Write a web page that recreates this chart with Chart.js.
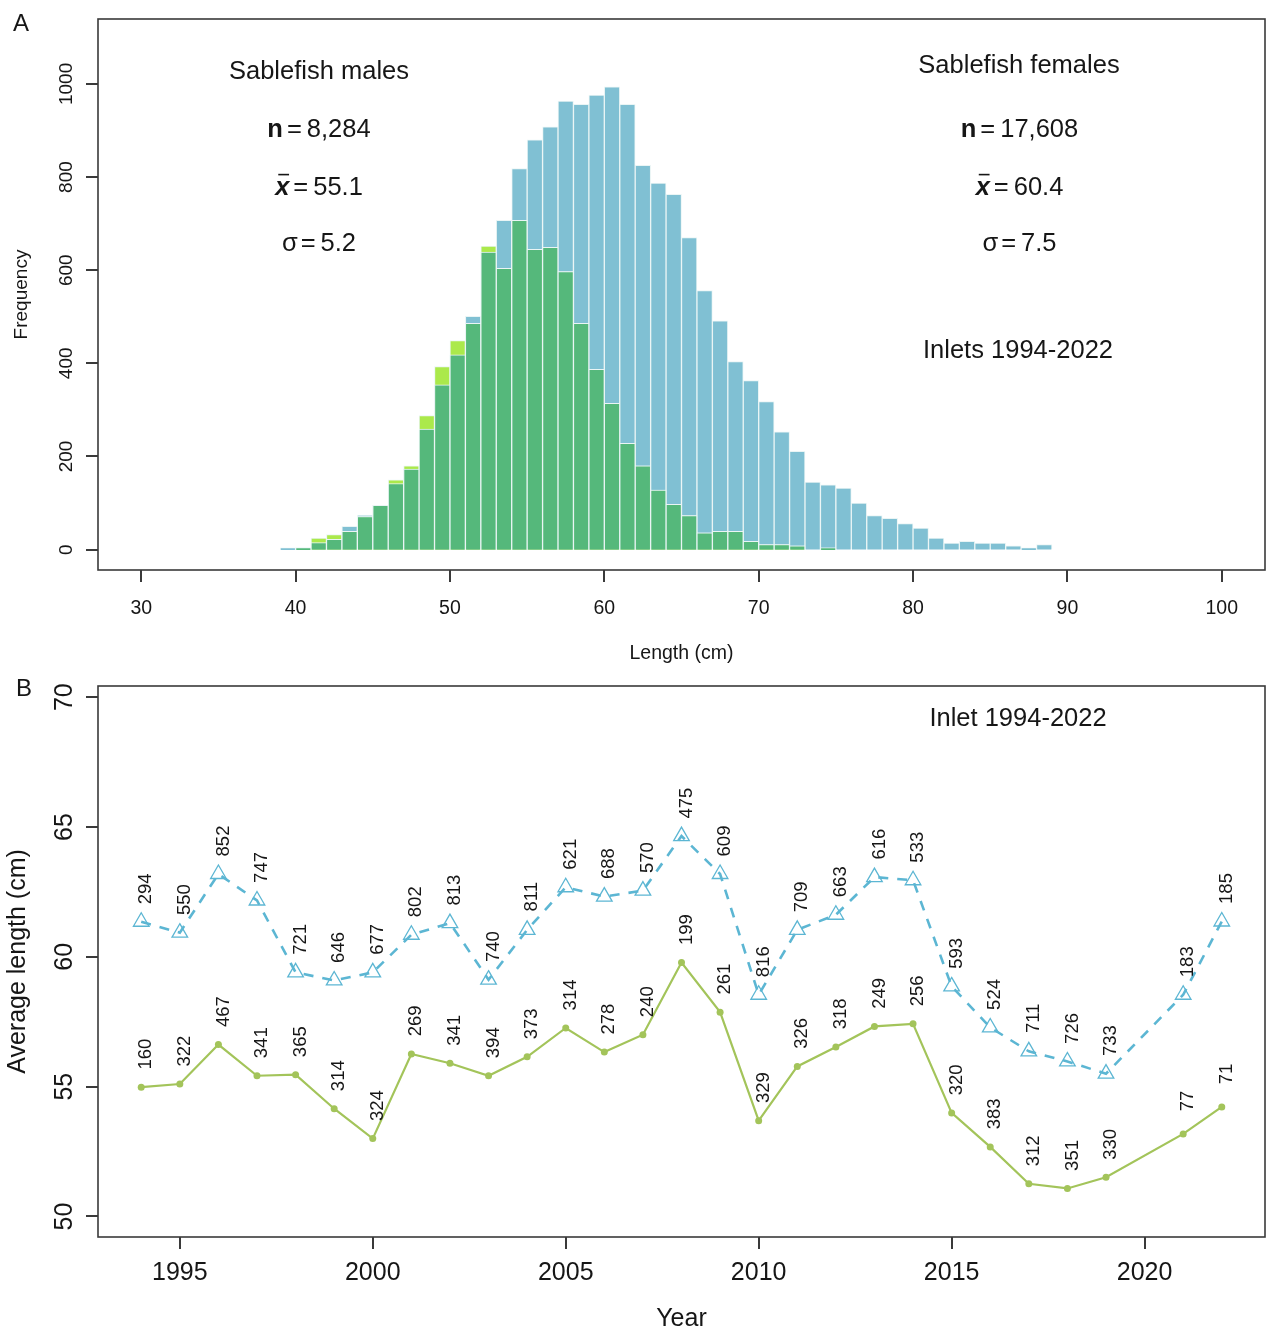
<!DOCTYPE html>
<html>
<head>
<meta charset="utf-8">
<title>Sablefish length composition</title>
<script src="https://cdn.jsdelivr.net/npm/chart.js@4.4.1/dist/chart.umd.min.js"></script>
<style>
  html, body { margin: 0; padding: 0; background: #ffffff; }
  #wrap { position: relative; width: 1267px; height: 1332px; overflow: hidden; }
  canvas { position: absolute; left: 0; }
  #histCanvas { top: 0; }
  #trendCanvas { top: 672px; }
</style>
</head>
<body>
<div id="wrap">
  <canvas id="histCanvas" width="1267" height="672"></canvas>
  <canvas id="trendCanvas" width="1267" height="660"></canvas>
</div>
<script>
// ---------- Panel A: length-frequency, 1 cm bins (bin start in cm) ----------
const binStarts = [39,40,41,42,43,44,45,46,47,48,49,50,51,52,53,54,55,56,57,58,59,60,61,62,63,
                   64,65,66,67,68,69,70,71,72,73,74,75,76,77,78,79,80,81,82,83,84,85,86,87,88];
const femaleCounts = [4,4,15,22,50,74,95,142,173,259,354,418,501,639,707,818,880,908,963,956,976,994,956,825,787,
                      763,670,556,491,404,363,318,253,211,145,139,132,100,73,67,56,46,25,14,18,14,14,8,4,11];
const maleCounts = [0,4,25,32,39,71,95,150,180,288,393,449,486,652,604,707,645,649,597,486,387,314,228,180,128,
                    97,73,36,39,39,18,11,11,8,0,4,0,0,0,0,0,0,0,0,0,0,0,0,0,0];
const lengthTicks = [30,40,50,60,70,80,90,100];
const freqTicks = [0,200,400,600,800,1000];
const maleStats = ['8,284', '55.1', '5.2'];
const femaleStats = ['17,608', '60.4', '7.5'];

// ---------- Panel B: mean length by year, with sample sizes ----------
const years = [1994,1995,1996,1997,1998,1999,2000,2001,2002,2003,2004,2005,2006,2007,
               2008,2009,2010,2011,2012,2013,2014,2015,2016,2017,2018,2019,2021,2022];
const femaleMeanLength = [61.35,60.93,63.19,62.17,59.40,59.09,59.40,60.85,61.30,59.12,61.04,62.68,62.32,62.55,
                          64.65,63.19,58.54,61.04,61.62,63.07,62.95,58.86,57.28,56.36,55.97,55.50,58.54,61.36];
const maleMeanLength = [54.98,55.10,56.62,55.42,55.46,54.15,53.00,56.26,55.90,55.42,56.15,57.26,56.33,57.00,
                        59.78,57.87,53.69,55.78,56.53,57.32,57.42,53.99,52.68,51.26,51.08,51.51,53.18,54.22];
const femaleN = [294,550,852,747,721,646,677,802,813,740,811,621,688,570,
                 475,609,816,709,663,616,533,593,524,711,726,733,183,185];
const maleN = [160,322,467,341,365,314,324,269,341,394,373,314,278,240,
               199,261,329,326,318,249,256,320,383,312,351,330,77,71];
const yearTicks = [1995,2000,2005,2010,2015,2020];
const avgLengthTicks = [50,55,60,65,70];

// ---------- shared styling ----------
const FONT = '"Liberation Sans", Arial, Helvetica, sans-serif';
const INK = '#161616';
const AXIS = '#3a3a3a';
const FEMALE_BAR = '#80c0d3';
const MALE_BAR = '#abe94b';
const BOTH_BAR = '#55b87b';
const BAR_EDGE = '#eaf5f5';
const FEMALE_LINE = '#5cb6d3';
const MALE_LINE = '#a3c45a';
const TICK_LEN = 12;
const TICK_W = 2;

function fixedTicks(values) {
  return scale => { scale.ticks = values.map(v => ({ value: v })); };
}

function axisStyle() {
  return {
    offset: false,
    grid: { display: false },
    border: { display: false },
    ticks: { display: false }
  };
}

// plot box plus outward tick marks at the scales' tick positions
function drawFrame(chart, xValues, yValues) {
  const { ctx, chartArea: a, scales } = chart;
  ctx.save();
  ctx.strokeStyle = AXIS;
  ctx.fillStyle = AXIS;
  ctx.lineWidth = 1.6;
  ctx.strokeRect(a.left, a.top, a.right - a.left, a.bottom - a.top);
  xValues.forEach(v => {
    const x = Math.round(scales.x.getPixelForValue(v));
    ctx.fillRect(x - TICK_W / 2, a.bottom, TICK_W, TICK_LEN);
  });
  yValues.forEach(v => {
    const y = Math.round(scales.y.getPixelForValue(v));
    ctx.fillRect(a.left - TICK_LEN, y - TICK_W / 2, TICK_LEN, TICK_W);
  });
  ctx.restore();
}

function drawText(ctx, str, x, y, size, opts = {}) {
  ctx.save();
  ctx.fillStyle = INK;
  ctx.font = (opts.style || '') + ' ' + size + 'px ' + FONT;
  ctx.textAlign = opts.align || 'center';
  ctx.textBaseline = 'alphabetic';
  ctx.translate(x, y);
  if (opts.vertical) ctx.rotate(-Math.PI / 2);
  ctx.fillText(str, 0, 0);
  ctx.restore();
}

function drawXTickLabels(chart, values, baseline, size) {
  const s = chart.scales.x;
  values.forEach(v => drawText(chart.ctx, String(v), s.getPixelForValue(v), baseline, size));
}

function drawYTickLabels(chart, values, baselineX, size) {
  const s = chart.scales.y;
  values.forEach(v => drawText(chart.ctx, String(v), baselineX, s.getPixelForValue(v), size, { vertical: true }));
}

// a centred line such as "n = 8,284" built from styled pieces
function mathLine(ctx, cx, base, size, parts) {
  ctx.save();
  ctx.fillStyle = INK;
  ctx.textAlign = 'left';
  ctx.textBaseline = 'alphabetic';
  const fontOf = p => (p.style === 'bold' ? 'bold ' : p.style === 'bolditalic' ? 'italic bold ' : '') + size + 'px ' + FONT;
  let total = 0;
  parts.forEach(p => { ctx.font = fontOf(p); p.w = ctx.measureText(p.t).width; total += (p.gap || 0) + p.w; });
  let x = cx - total / 2;
  parts.forEach(p => {
    x += p.gap || 0;
    ctx.font = fontOf(p);
    ctx.fillText(p.t, x, base);
    if (p.bar) {
      ctx.fillRect(x + p.w * 0.22, base - size * 0.8 - 0.8, p.w * 0.76, 1.6);
    }
    x += p.w;
  });
  ctx.restore();
}

function statBlock(ctx, cx, stats, size) {
  mathLine(ctx, cx, 136.7, size, [
    { t: 'n', style: 'bold' }, { t: '=', gap: 4 }, { t: stats[0], gap: 5 }
  ]);
  mathLine(ctx, cx, 195, size, [
    { t: 'x', style: 'bolditalic', bar: true }, { t: '=', gap: 4 }, { t: stats[1], gap: 5 }
  ]);
  mathLine(ctx, cx, 251.2, size, [
    { t: '\u03C3' }, { t: '=', gap: 3 }, { t: stats[2], gap: 5 }
  ]);
}

// ---------- Panel A ----------
const overlapCounts = femaleCounts.map((f, i) => Math.min(f, maleCounts[i]));
const toBars = arr => binStarts.map((b, i) => ({ x: b + 0.5, y: arr[i] }));

const barCommon = {
  borderColor: BAR_EDGE,
  borderWidth: 1,
  barPercentage: 1,
  categoryPercentage: 1,
  grouped: false
};

const histDecor = {
  id: 'histDecor',
  afterDraw(chart) {
    const ctx = chart.ctx;
    drawFrame(chart, lengthTicks, freqTicks);
    drawXTickLabels(chart, lengthTicks, 613.5, 19.5);
    drawYTickLabels(chart, freqTicks, 71.7, 19);
    drawText(ctx, 'Length (cm)', (chart.chartArea.left + chart.chartArea.right) / 2, 659, 19.5);
    drawText(ctx, 'Frequency', 26.5, (chart.chartArea.top + chart.chartArea.bottom) / 2, 19, { vertical: true });
    drawText(ctx, 'A', 13, 30.5, 24, { align: 'left' });

    drawText(ctx, 'Sablefish males', 319, 79.3, 25.5);
    statBlock(ctx, 319, maleStats, 25.5);
    drawText(ctx, 'Sablefish females', 1019, 73.3, 25.5);
    statBlock(ctx, 1019.5, femaleStats, 25.5);
    drawText(ctx, 'Inlets 1994-2022', 1018, 358.3, 25.5);
  }
};

new Chart(document.getElementById('histCanvas'), {
  type: 'bar',
  data: {
    datasets: [
      Object.assign({ label: 'Both', data: toBars(overlapCounts), backgroundColor: BOTH_BAR, order: 0 }, barCommon),
      Object.assign({ label: 'Males', data: toBars(maleCounts), backgroundColor: MALE_BAR, order: 1 }, barCommon),
      Object.assign({ label: 'Females', data: toBars(femaleCounts), backgroundColor: FEMALE_BAR, order: 2 }, barCommon)
    ]
  },
  options: {
    responsive: false,
    animation: false,
    events: [],
    layout: { autoPadding: false, padding: { top: 19, right: 2, left: 0, bottom: 0 } },
    plugins: { legend: { display: false }, tooltip: { enabled: false } },
    scales: {
      x: Object.assign({
        type: 'linear', min: 27.2, max: 102.8,
        afterBuildTicks: fixedTicks(lengthTicks),
        afterFit: s => { s.height = 102; }
      }, axisStyle()),
      y: Object.assign({
        type: 'linear', min: -43.8, max: 1139.4, beginAtZero: false,
        afterBuildTicks: fixedTicks(freqTicks),
        afterFit: s => { s.width = 98; }
      }, axisStyle())
    }
  },
  plugins: [histDecor]
});

// ---------- Panel B ----------
const toPoints = arr => years.map((yr, i) => ({ x: yr, y: arr[i] }));

function drawCounts(chart, values, counts, size) {
  const sx = chart.scales.x, sy = chart.scales.y, ctx = chart.ctx;
  years.forEach((yr, i) => {
    const px = sx.getPixelForValue(yr);
    const py = sy.getPixelForValue(values[i]);
    drawText(ctx, String(counts[i]), px + 3.5 + 0.358 * size, py - 33, size, { vertical: true });
  });
}

const trendDecor = {
  id: 'trendDecor',
  afterDraw(chart) {
    const ctx = chart.ctx;
    drawFrame(chart, yearTicks, avgLengthTicks);
    drawXTickLabels(chart, yearTicks, 608, 25);
    drawYTickLabels(chart, avgLengthTicks, 71.5, 25);
    drawText(ctx, 'Year', (chart.chartArea.left + chart.chartArea.right) / 2, 653.5, 25);
    drawText(ctx, 'Average length (cm)', 25, (chart.chartArea.top + chart.chartArea.bottom) / 2, 25, { vertical: true });
    drawText(ctx, 'B', 16, 23.5, 24, { align: 'left' });
    drawText(ctx, 'Inlet 1994-2022', 1018, 54, 25.5);
    drawCounts(chart, femaleMeanLength, femaleN, 18.5);
    drawCounts(chart, maleMeanLength, maleN, 18.5);
  }
};

new Chart(document.getElementById('trendCanvas'), {
  type: 'line',
  data: {
    datasets: [
      {
        label: 'Females',
        data: toPoints(femaleMeanLength),
        borderColor: FEMALE_LINE,
        borderWidth: 2.6,
        borderDash: [10, 9],
        pointStyle: 'triangle',
        pointRadius: 9,
        pointBorderColor: FEMALE_LINE,
        pointBackgroundColor: 'rgba(0,0,0,0)',
        pointBorderWidth: 1.3,
        tension: 0,
        fill: false
      },
      {
        label: 'Males',
        data: toPoints(maleMeanLength),
        borderColor: MALE_LINE,
        borderWidth: 2.2,
        pointStyle: 'circle',
        pointRadius: 3.5,
        pointBorderWidth: 0,
        pointBackgroundColor: MALE_LINE,
        tension: 0,
        fill: false
      }
    ]
  },
  options: {
    responsive: false,
    animation: false,
    events: [],
    layout: { autoPadding: false, padding: { top: 14, right: 2, left: 0, bottom: 0 } },
    plugins: { legend: { display: false }, tooltip: { enabled: false } },
    scales: {
      x: Object.assign({
        type: 'linear', min: 1992.88, max: 2023.12,
        afterBuildTicks: fixedTicks(yearTicks),
        afterFit: s => { s.height = 95; }
      }, axisStyle()),
      y: Object.assign({
        type: 'linear', min: 49.21, max: 70.43,
        afterBuildTicks: fixedTicks(avgLengthTicks),
        afterFit: s => { s.width = 98; }
      }, axisStyle())
    }
  },
  plugins: [trendDecor]
});
</script>
</body>
</html>
